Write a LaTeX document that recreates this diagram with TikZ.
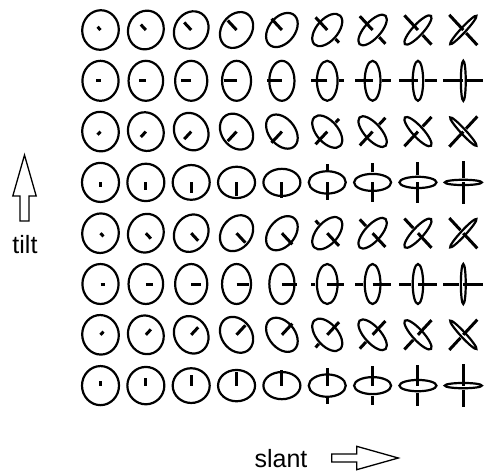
\documentclass[tikz,border=0pt]{standalone}
\usepackage{fontspec}
\setmainfont{Liberation Sans}
\usetikzlibrary{positioning}
\tikzset{
  disc/.style={line width=2.2pt},
  needle/.style={line width=3pt},
  hollowarrow/.style={line width=1.3pt,line join=miter},
  axislabel/.style={font=\fontsize{25}{30}\selectfont,inner sep=0pt},
}
\def\rad{18.5}  % disc radius
\def\stk{20}    % stick length

\begin{document}
\begin{tikzpicture}[x=1pt,y=1pt]
  \useasboundingbox (0,0) rectangle (484,-472);
  \foreach \i in {0,...,71}{%
    \pgfmathtruncatemacro{\col}{mod(\i,9)}
    \pgfmathtruncatemacro{\row}{int(\i/9)}
    \pgfmathsetmacro{\tlt}{135+45*\row}
    \pgfmathsetmacro{\slt}{12+8.8*\col}
    \pgfmathsetmacro{\rx}{\rad*cos(\slt)}
    \pgfmathsetmacro{\nd}{\stk*sin(\slt)}
    \begin{scope}[xshift={(100.5+\col*45.35)*1pt},yshift={(-30-\row*50.8)*1pt},
                  yscale=1.08,rotate=\tlt]
      % back half of the stick, hidden behind the disc
      \ifdim\nd pt>\dimexpr\rx pt+3pt\relax
        \draw[needle] (-\rx-1.5,0) -- (-\nd,0);
      \fi
      % disc seen at slant, foreshortened along the tilt
      \draw[disc] (0,0) ellipse [x radius=\rx pt,y radius=\rad pt];
      \draw[needle] (0,0) -- (\nd,0);
    \end{scope}
  }
  % axis labels
  \coordinate (tiltfoot) at (24.5,-221);
  \draw[hollowarrow] ([xshift=-4.5pt]tiltfoot) -- ++(0,25) -- ++(-7.2,0)
    -- ++(11.7,41) -- ++(11.7,-41) -- ++(-7.2,0) -- ++(0,-25) -- cycle;
  \node[axislabel,anchor=base] (tilt) at (25,-253.5) {tilt};
  \node[axislabel,anchor=base] (slant) at (281,-467) {slant};
  \coordinate (slantfoot) at (331.7,-458);
  \draw[hollowarrow] ([yshift=4pt]slantfoot) -- ++(25,0) -- ++(0,7.7)
    -- ++(41.6,-11.7) -- ++(-41.6,-11.7) -- ++(0,7.7) -- ++(-25,0) -- cycle;
\end{tikzpicture}
\end{document}
